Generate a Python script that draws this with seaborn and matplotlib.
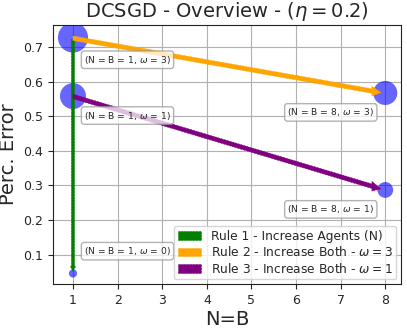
import numpy as np
import matplotlib
matplotlib.use("Agg")
import matplotlib.pyplot as plt
import seaborn as sns
import pandas as pd

# points (N=B, error, omega)
nb = [1, 1, 1, 8, 8]
err = [0.727, 0.558, 0.046, 0.567, 0.287]
omega = [3, 1, 0, 3, 1]
sizes = [470, 350, 35, 300, 130]

# arrows: start -> end
rule_labels = ["Rule 1 - Increase Agents (N)",
               r"Rule 2 - Increase Both - $\omega=3$",
               r"Rule 3 - Increase Both - $\omega=1$"]
rule_colors = ["green", "orange", "purple"]
rule_start = [(1, 0.722), (1, 0.725), (1, 0.557)]
rule_end = [(1, 0.052), (7.9, 0.568), (7.9, 0.29)]

df = pd.DataFrame({"nb": nb, "err": err, "s": sizes})

sns.set_style("ticks")
fig, ax = plt.subplots(figsize=(4.07, 3.3), dpi=100)
fig.subplots_adjust(left=0.13, right=0.985, top=0.924, bottom=0.139)
ax.grid(True, color="#b0b0b0", lw=0.8)
for sp in ax.spines.values():
    sp.set_color("#222222")

ax.set_xlim(0.55, 8.35)
ax.set_ylim(0.015, 0.763)

sns.scatterplot(data=df, x="nb", y="err", size="s", sizes=(min(sizes), max(sizes)),
                color="blue", alpha=0.6, edgecolor="none", legend=False, ax=ax, zorder=2)

# arrow sizes (data units)
widths = [0.07, 0.013, 0.013]
head_w = [0.12, 0.028, 0.028]
head_l = [0.015, 0.2, 0.2]
for i in range(3):
    (x0, y0), (x1, y1) = rule_start[i], rule_end[i]
    ax.arrow(x0, y0, x1 - x0, y1 - y0, width=widths[i], head_width=head_w[i],
             head_length=head_l[i], length_includes_head=True,
             fc=rule_colors[i], ec=rule_colors[i], ls="--", lw=0.4,
             label=rule_labels[i], zorder=3)

box = dict(boxstyle="round,pad=0.3", fc="white", ec="#999999", alpha=0.75)
offsets = [(8, -16), (8, -14), (8, 16), (-8, -14), (-8, -14)]
for i in range(len(nb)):
    ha = "left" if nb[i] == 1 else "right"
    ax.annotate(rf"(N = B = {nb[i]}, $\omega$ = {omega[i]})", (nb[i], err[i]),
                xytext=offsets[i], textcoords="offset points", ha=ha, va="center",
                fontsize=6.6, bbox=box, zorder=4)

ax.set_xticks(range(1, 9))
ax.set_yticks([0.1, 0.2, 0.3, 0.4, 0.5, 0.6, 0.7])
ax.tick_params(labelsize=9)
ax.set_xlabel("N=B", fontsize=14, labelpad=2)
ax.set_ylabel("Perc. Error", fontsize=14)
ax.set_title(r"DCSGD - Overview - ($\eta = 0.2$)", fontsize=14)
ax.legend(loc="lower right", fontsize=8.8, labelspacing=0.2, borderpad=0.3,
          handlelength=1.9, handletextpad=0.8, borderaxespad=0.4)

fig.savefig("out.png", dpi=100)
